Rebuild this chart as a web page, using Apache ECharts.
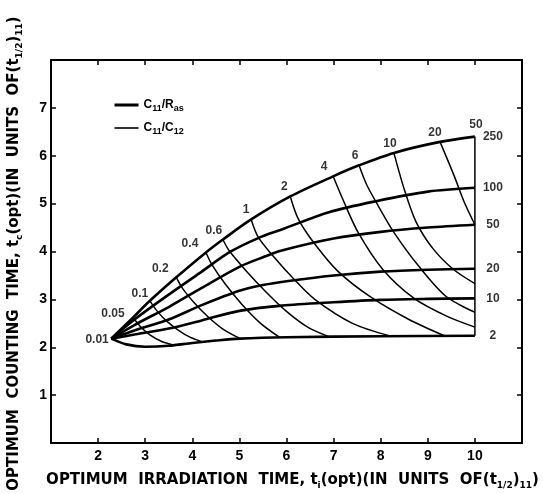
<!DOCTYPE html>
<html>
<head>
<meta charset="utf-8">
<title>Optimum counting time vs irradiation time</title>
<script src="https://cdn.jsdelivr.net/npm/echarts@6/dist/echarts.min.js"></script>
<style>
    html, body { margin: 0; padding: 0; background: #fff; }
    #chart { width: 543px; height: 494px; }
</style>
</head>
<body>
<div id="chart"></div>
<script>
// 粗线 (C11/Ras) 右端标注
const thickLabels = ['250', '100', '50', '20', '10', '2'];
// 细线 (C11/C12) 起点标注，0.01 在公共起点
const thinLabels = ['0.05', '0.1', '0.2', '0.4', '0.6', '1', '2', '4', '6', '10', '20', '50'];
const originLabel = '0.01';

const xTicks = [2, 3, 4, 5, 6, 7, 8, 9, 10];
const yTicks = [1, 2, 3, 4, 5, 6, 7];

// 粗线，从公共起点到 x = 10
const thick250 = [[2.28, 2.18], [2.74, 2.62], [3.10, 2.97], [3.66, 3.46], [4.29, 3.98], [4.65, 4.25], [5.25, 4.67], [6.08, 5.15], [6.99, 5.57], [7.54, 5.80], [8.28, 6.06], [9.26, 6.29], [10, 6.40]];
const thick100 = [[2.28, 2.18], [2.8, 2.6], [3.5, 3.1], [4.2, 3.58], [4.8, 3.99], [5.4, 4.28], [5.9, 4.46], [6.9, 4.82], [7.9, 5.05], [9.0, 5.25], [10, 5.33]];
const thick50 = [[2.28, 2.18], [2.8, 2.48], [3.5, 2.84], [4.2, 3.24], [5.0, 3.68], [5.5, 3.88], [5.9, 4.02], [7.0, 4.27], [8.0, 4.41], [9.0, 4.5], [10, 4.56]];
const thick20 = [[2.28, 2.18], [2.8, 2.36], [3.5, 2.58], [4.2, 2.88], [5.0, 3.18], [5.5, 3.3], [6.0, 3.38], [7.0, 3.5], [8.0, 3.58], [9.0, 3.62], [10, 3.64]];
const thick10 = [[2.28, 2.18], [2.8, 2.27], [3.5, 2.39], [4.2, 2.56], [5.0, 2.76], [5.9, 2.87], [7.0, 2.94], [8.0, 2.99], [9.0, 3.01], [10, 3.02]];
const thick2 = [[2.28, 2.18], [2.6, 2.06], [3.0, 2.01], [3.5, 2.03], [4.0, 2.09], [4.5, 2.14], [5.0, 2.18], [6.0, 2.21], [8.0, 2.23], [10, 2.24]];

// 细线，从上包络线上的标注点向右下
const thin005 = [[2.74, 2.62], [2.9, 2.43], [3.1, 2.26], [3.35, 2.12], [3.6, 2.05]];
const thin01 = [[3.10, 2.97], [3.25, 2.76], [3.45, 2.55], [3.7, 2.36], [3.95, 2.21], [4.19, 2.12]];
const thin02 = [[3.66, 3.46], [3.8, 3.22], [4.05, 2.92], [4.35, 2.62], [4.65, 2.38], [5.0, 2.19]];
const thin04 = [[4.29, 3.98], [4.42, 3.72], [4.7, 3.32], [5.05, 2.9], [5.45, 2.5], [5.85, 2.21]];
const thin06 = [[4.65, 4.25], [4.78, 4.02], [5.14, 3.6], [5.57, 3.15], [6.0, 2.75], [6.45, 2.42], [6.9, 2.22]];
const thin1 = [[5.25, 4.67], [5.40, 4.30], [5.72, 3.9], [6.16, 3.42], [6.6, 3.0], [7.4, 2.5], [8.22, 2.23]];
const thin2 = [[6.08, 5.15], [6.25, 4.68], [6.56, 4.21], [7.10, 3.58], [7.80, 3.04], [8.60, 2.58], [9.35, 2.24]];
const thin4 = [[6.99, 5.57], [7.20, 5.08], [7.52, 4.40], [8.05, 3.62], [8.71, 3.02], [9.4, 2.65], [10, 2.42]];
const thin6 = [[7.54, 5.80], [7.70, 5.40], [7.95, 4.95], [8.28, 4.40], [8.81, 3.69], [9.39, 3.06], [10, 2.73]];
const thin10 = [[8.28, 6.06], [8.50, 5.30], [8.75, 4.62], [9.11, 4.06], [9.54, 3.63], [10, 3.33]];
const thin20 = [[9.26, 6.29], [9.56, 5.58], [9.77, 5.04], [10, 4.56]];
const thin50 = [[10, 6.40], [10, 2.24]];

const thickCurves = [thick250, thick100, thick50, thick20, thick10, thick2];
const thinCurves = [thin005, thin01, thin02, thin04, thin06, thin1, thin2, thin4, thin6, thin10, thin20, thin50];

const THICK_NAME = 'C11/Ras';
const THIN_NAME = 'C11/C12';
const FONT = '"Liberation Sans", Arial, sans-serif';
const NAME_FONT = '"DejaVu Sans", sans-serif';

// 细线标注相对起点的偏移 (像素)
const THIN_LABEL_OFFSET = {
    '0.05': [-20, 6], '0.1': [-10, 2], '0.2': [-16, 1], '0.4': [-16, 1], '0.6': [-9, 1],
    '1': [-5, 0], '2': [-6, 0], '4': [-9, 0], '6': [-4, 0], '10': [-4, 0], '20': [-5, 0], '50': [1, -2]
};

const chart = echarts.init(document.getElementById('chart'), null, { renderer: 'canvas' });

// 轴名称的下标样式
const subRich = {
    m: { fontFamily: NAME_FONT, fontWeight: 'bold', fontSize: 15, color: '#000', lineHeight: 20 },
    s: { fontFamily: NAME_FONT, fontWeight: 'bold', fontSize: 9, color: '#000', verticalAlign: 'bottom', lineHeight: 20, padding: [5, 0, 0, 0] }
};

function tickFormatter(list) {
    return v => (list.indexOf(v) >= 0 ? String(v) : '');
}

const series = [];

thickCurves.forEach(curve => {
    series.push({
        name: THICK_NAME,
        type: 'line',
        data: curve,
        symbol: 'none',
        smooth: 0.3,
        itemStyle: { color: '#000' },
        lineStyle: { color: '#000', width: 2.6 },
        silent: true,
        z: 3
    });
});

thinCurves.forEach(curve => {
    const vertical = curve[0][0] === curve[curve.length - 1][0];
    series.push({
        name: THIN_NAME,
        type: 'line',
        data: curve,
        symbol: 'none',
        smooth: vertical ? false : 0.3,
        itemStyle: { color: '#000' },
        lineStyle: { color: '#000', width: 1.5 },
        silent: true,
        z: 2
    });
});

// 细线起点标注
const thinLabelData = thinCurves.map((curve, i) => ({
    value: curve[0],
    name: thinLabels[i],
    label: { position: 'top', distance: 3, offset: THIN_LABEL_OFFSET[thinLabels[i]] }
}));
thinLabelData.push({
    value: thick250[0],
    name: originLabel,
    label: { position: 'left', distance: 2, offset: [0, 1] }
});

series.push({
    type: 'scatter',
    data: thinLabelData,
    symbolSize: 1,
    itemStyle: { color: 'rgba(0,0,0,0)' },
    silent: true,
    label: {
        show: true,
        formatter: '{b}',
        color: '#000',
        fontFamily: FONT,
        fontWeight: 'bold',
        fontSize: 12
    },
    z: 5
});

// 粗线右端标注
series.push({
    type: 'scatter',
    data: thickCurves.map((curve, i) => ({ value: curve[curve.length - 1], name: thickLabels[i] })),
    symbolSize: 1,
    itemStyle: { color: 'rgba(0,0,0,0)' },
    silent: true,
    label: {
        show: true,
        position: 'inside',
        offset: [18, 0],
        formatter: '{b}',
        color: '#000',
        fontFamily: FONT,
        fontWeight: 'bold',
        fontSize: 12
    },
    z: 5
});

const frameLine = { show: true, onZero: false, lineStyle: { color: '#000', width: 2 } };
const innerTick = { show: true, inside: true, length: 5, lineStyle: { color: '#000', width: 1.5 } };

const option = {
    animation: false,
    backgroundColor: '#fff',
    grid: { left: 51, right: 21, top: 60, bottom: 51, containLabel: false, outerBoundsMode: 'none' },
    legend: {
        data: [
            { name: THICK_NAME, lineStyle: { width: 3 } },
            { name: THIN_NAME, lineStyle: { width: 1.6 } }
        ],
        orient: 'vertical',
        left: 108,
        top: 94,
        itemWidth: 24,
        itemHeight: 14,
        itemGap: 9,
        selectedMode: false,
        itemStyle: { opacity: 0 },
        formatter: name => (name === THICK_NAME
            ? '{m|C}{s|11}{m|/R}{s|as}'
            : '{m|C}{s|11}{m|/C}{s|12}'),
        textStyle: {
            rich: {
                m: { fontFamily: FONT, fontWeight: 'bold', fontSize: 12, color: '#000', lineHeight: 16 },
                s: { fontFamily: FONT, fontWeight: 'bold', fontSize: 9, color: '#000', verticalAlign: 'bottom', lineHeight: 16, padding: [4, 0, 0, 0] }
            }
        }
    },
    xAxis: [{
        type: 'value',
        position: 'bottom',
        min: 1,
        max: 11,
        interval: 1,
        axisLine: frameLine,
        axisTick: innerTick,
        splitLine: { show: false },
        axisLabel: {
            formatter: tickFormatter(xTicks),
            color: '#000',
            fontFamily: FONT,
            fontWeight: 'bold',
            fontSize: 14,
            margin: 6
        },
        name: '{m|OPTIMUM  IRRADIATION  TIME, t}{s|i}{m|(opt)(IN  UNITS  OF(t}{s|1/2}{m|)}{s|11}{m|)}',
        nameLocation: 'middle',
        nameGap: 27,
        nameTextStyle: { rich: subRich, padding: [0, 0, 0, 12] }
    }, {
        type: 'value',
        position: 'top',
        min: 1,
        max: 11,
        interval: 1,
        axisLine: frameLine,
        axisTick: innerTick,
        splitLine: { show: false },
        axisLabel: { show: false }
    }],
    yAxis: [{
        type: 'value',
        position: 'left',
        min: 0,
        max: 8,
        interval: 1,
        axisLine: frameLine,
        axisTick: innerTick,
        splitLine: { show: false },
        axisLabel: {
            formatter: tickFormatter(yTicks),
            color: '#000',
            fontFamily: FONT,
            fontWeight: 'bold',
            fontSize: 14,
            margin: 4
        },
        name: '{m|OPTIMUM  COUNTING  TIME, t}{s|c}{m|(opt)(IN  UNITS  OF(t}{s|1/2}{m|)}{s|11}{m|)}',
        nameLocation: 'middle',
        nameGap: 27,
        nameRotate: 90,
        nameTextStyle: { rich: subRich, padding: [0, 4, 0, 0] }
    }, {
        type: 'value',
        position: 'right',
        min: 0,
        max: 8,
        interval: 1,
        axisLine: frameLine,
        axisTick: innerTick,
        splitLine: { show: false },
        axisLabel: { show: false }
    }],
    series: series
};

chart.setOption(option);
</script>
</body>
</html>
